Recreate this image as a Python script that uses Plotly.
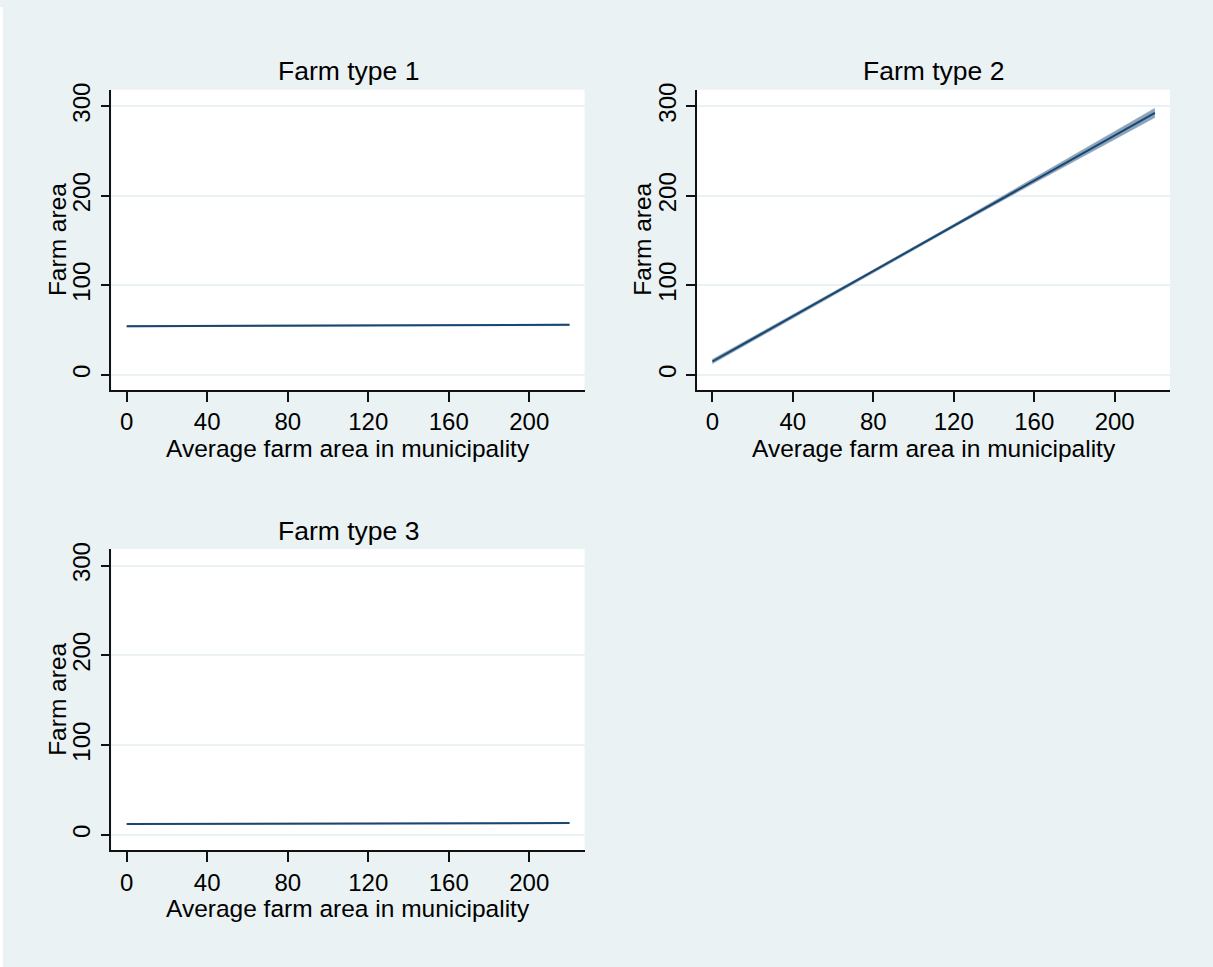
import plotly.graph_objects as go

# ---- data ----
panel_titles = ["Farm type 1", "Farm type 2", "Farm type 3"]
x_vals = [0, 40, 80, 120, 160, 200, 220]

fit1 = [54.4, 54.7, 55.0, 55.2, 55.4, 55.7, 55.9]
lo1 = [53.7, 54.2, 54.6, 54.8, 54.9, 55.0, 55.1]
hi1 = [55.1, 55.2, 55.4, 55.6, 55.9, 56.4, 56.7]

fit2 = [15.0, 65.4, 116.0, 166.5, 217.0, 267.5, 292.7]
lo2 = [12.6, 63.6, 114.6, 164.8, 214.3, 263.4, 287.5]
hi2 = [17.4, 67.2, 117.4, 168.2, 219.7, 271.6, 297.9]

fit3 = [12.3, 12.5, 12.7, 12.9, 13.0, 13.2, 13.3]
lo3 = [11.9, 12.2, 12.4, 12.6, 12.7, 12.8, 12.8]
hi3 = [12.7, 12.8, 13.0, 13.2, 13.3, 13.6, 13.8]

x_ticks = [0, 40, 80, 120, 160, 200]
y_ticks = [0, 100, 200, 300]
x_title = "Average farm area in municipality"
y_title = "Farm area"

# ---- style ----
W, H = 1213, 967
BG = "#EAF2F3"
LINE = "#1A476F"
BAND = "#8CA4BB"
FONT = "Liberation Sans, Arial, sans-serif"

fig = go.Figure()

series = [(fit1, lo1, hi1), (fit2, lo2, hi2), (fit3, lo3, hi3)]
axes_ids = ["", "2", "3"]
for (fit, lo, hi), aid in zip(series, axes_ids):
    xa, ya = "x" + aid, "y" + aid
    fig.add_trace(go.Scatter(x=x_vals, y=lo, mode="lines", xaxis=xa, yaxis=ya,
                             line=dict(color=BAND, width=0.5), showlegend=False,
                             hoverinfo="skip"))
    fig.add_trace(go.Scatter(x=x_vals, y=hi, mode="lines", xaxis=xa, yaxis=ya,
                             line=dict(color=BAND, width=0.5), fill="tonexty",
                             fillcolor=BAND, showlegend=False, hoverinfo="skip"))
    fig.add_trace(go.Scatter(x=x_vals, y=fit, mode="lines", xaxis=xa, yaxis=ya,
                             line=dict(color=LINE, width=2), showlegend=False))

# panel boxes in pixels: (left, right, top, bottom)
boxes = [
    (111.4, 584.6, 83.3, 385.5),
    (697.1, 1170.0, 83.3, 385.5),
    (111.4, 584.6, 546.0, 849.0),
]

def dom_x(a, b):
    return [a / W, b / W]

def dom_y(top, bottom):
    return [(H - bottom) / H, (H - top) / H]

layout = dict(
    width=W, height=H,
    margin=dict(l=0, r=0, t=0, b=0),
    paper_bgcolor=BG,
    plot_bgcolor="white",
    font=dict(family=FONT, color="black", size=24),
    showlegend=False,
)

annotations = []
for aid, (l, r, t, b), ptitle in zip(axes_ids, boxes, panel_titles):
    layout["xaxis" + aid] = dict(
        domain=dom_x(l, r), anchor="y" + aid, range=[-7.6, 227.5],
        tickmode="array", tickvals=x_ticks, ticks="outside", ticklen=10,
        tickwidth=1.5, tickcolor="#111", showline=True, linecolor="#111",
        linewidth=1.8, showgrid=False, zeroline=False,
        tickfont=dict(size=24), ticklabelstandoff=0,
    )
    layout["yaxis" + aid] = dict(
        domain=dom_y(t, b), anchor="x" + aid, range=[-16.5, 318.5],
        tickmode="array", tickvals=y_ticks, ticks="outside", ticklen=9,
        tickwidth=1.5, tickcolor="#111", showline=True, linecolor="#111",
        linewidth=1.8, showgrid=True, gridcolor=BG, gridwidth=1.5,
        zeroline=False, tickangle=-90, tickfont=dict(size=24),
        ticklabelstandoff=1,
    )
    cx = (l + r) / 2
    cy = (t + b) / 2
    # panel title
    annotations.append(dict(
        text=ptitle, xref="paper", yref="paper", x=cx / W,
        y=1 - (t - 18.5) / H, xanchor="center", yanchor="middle",
        showarrow=False, font=dict(size=26.5, family=FONT, color="black"),
    ))
    # x axis title
    annotations.append(dict(
        text=x_title, xref="paper", yref="paper", x=cx / W,
        y=1 - (b + 59) / H, xanchor="center", yanchor="middle",
        showarrow=False, font=dict(size=24.5, family=FONT, color="black"),
    ))
    # y axis title
    annotations.append(dict(
        text=y_title, xref="paper", yref="paper", x=(l - 54) / W,
        y=1 - cy / H, xanchor="center", yanchor="middle", textangle=-90,
        showarrow=False, font=dict(size=24.5, family=FONT, color="black"),
    ))
layout["annotations"] = annotations

layout["shapes"] = [dict(type="rect", xref="paper", yref="paper",
                         x0=0, x1=3 / W, y0=0, y1=1, fillcolor="white",
                         line=dict(width=0), layer="below")]

fig.update_layout(**layout)
fig.write_html("out.html",
               config={"displayModeBar": False},
               post_script="document.body.style.margin='0';"
                           "document.body.style.overflow='hidden';")
